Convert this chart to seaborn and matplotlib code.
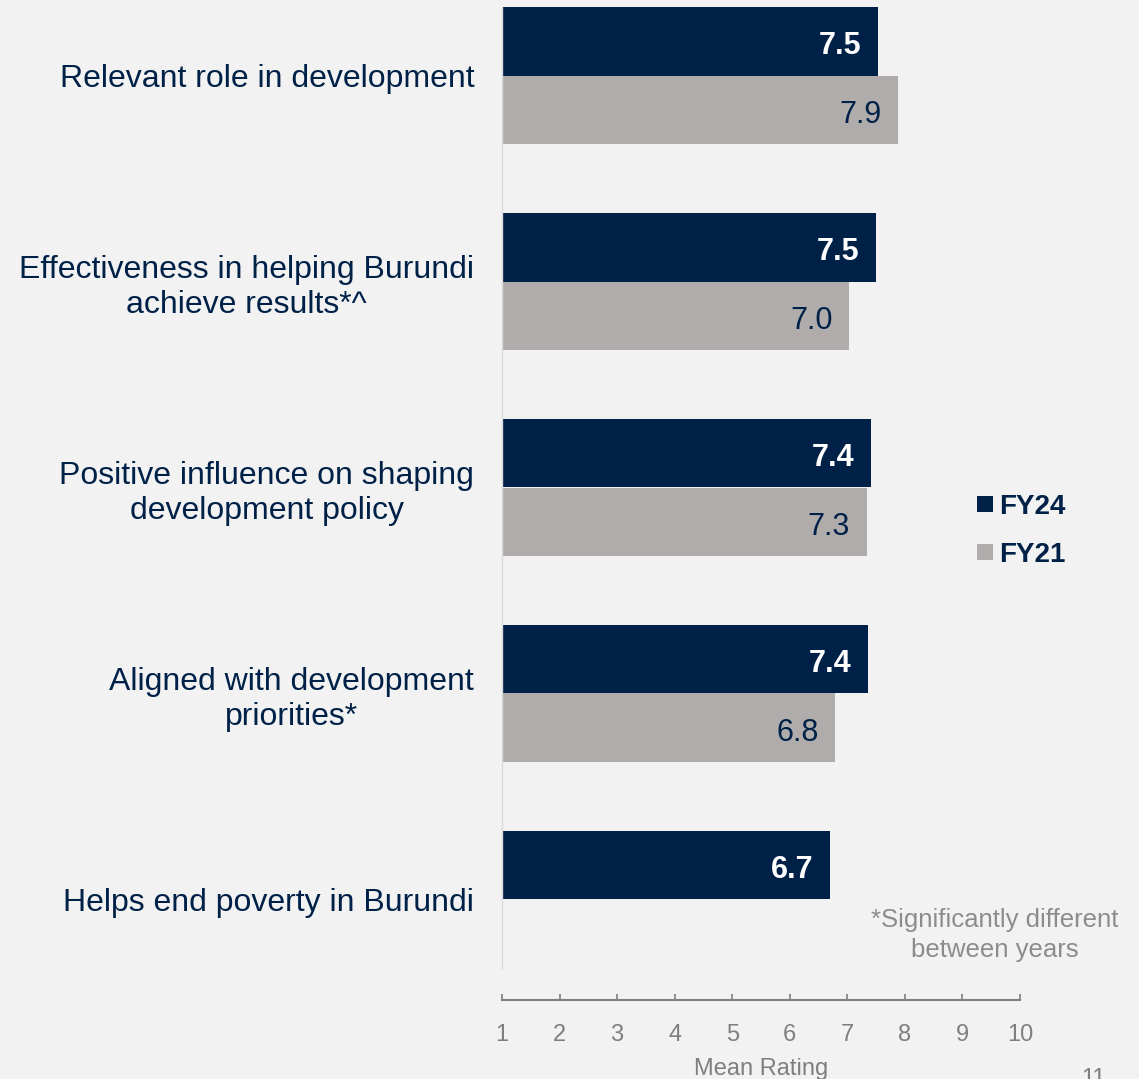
import matplotlib
matplotlib.use("Agg")
import matplotlib.pyplot as plt
import seaborn as sns
import pandas as pd
import numpy as np
from matplotlib.lines import Line2D

# data
items = [
    "Relevant role in development",
    "Effectiveness in helping Burundi\nachieve results*^",
    "Positive influence on shaping\ndevelopment policy",
    "Aligned with development\npriorities*",
    "Helps end poverty in Burundi",
]
fy24 = [7.54, 7.50, 7.41, 7.36, 6.70]
fy21 = [7.88, 7.03, 7.34, 6.79, np.nan]
years = ["FY24", "FY21"]
x_ticks = [1, 2, 3, 4, 5, 6, 7, 8, 9, 10]

NAVY = "#002147"
GREY_BAR = "#AFACAB"
BG = "#F2F2F2"
TICK_GREY = "#7F7F7F"
NOTE_GREY = "#8C8C8C"

df = pd.DataFrame({
    "item": items * 2,
    "value": fy24 + fy21,
    "year": ["FY24"] * len(items) + ["FY21"] * len(items),
}).dropna()

sns.set_style("white")
plt.rcParams["font.family"] = ["Liberation Sans", "DejaVu Sans"]

fig = plt.figure(figsize=(11.39, 10.79), dpi=100)
fig.patch.set_facecolor(BG)
ax = fig.add_axes([502 / 1139, 111 / 1079, 518 / 1139, 961 / 1079])
ax.set_facecolor(BG)

sns.barplot(data=df, x="value", y="item", hue="year", order=items,
            hue_order=years, palette={"FY24": NAVY, "FY21": GREY_BAR},
            orient="h", width=0.667, saturation=1, linewidth=0,
            errorbar=None, legend=False, ax=ax)

ax.set_xlim(1, 10)
ax.set_ylim(len(items) - 1 + 1 / 3, -1 / 3)
ax.set_xticks(x_ticks)
ax.set_xlabel("Mean Rating", fontsize=17, color=TICK_GREY, labelpad=9)
ax.set_ylabel("")

# value labels inside bar ends
for cont, yr in zip(ax.containers, years):
    for bar in cont:
        w = bar.get_width()
        if np.isnan(w):
            continue
        yc = bar.get_y() + bar.get_height() / 2
        if yr == "FY24":
            ax.annotate(f"{w:.1f}", (w, yc), xytext=(-12, -3.5), textcoords="offset points",
                        ha="right", va="center", fontsize=22, fontweight="bold", color="white")
        else:
            ax.annotate(f"{w:.1f}", (w, yc), xytext=(-12, -3.5), textcoords="offset points",
                        ha="right", va="center", fontsize=22, color=NAVY)

# spines and ticks
for s in ["top", "right"]:
    ax.spines[s].set_visible(False)
ax.spines["left"].set_color("#D9D9D9")
ax.spines["left"].set_linewidth(1)
ax.spines["bottom"].set_position(("outward", 23))
ax.spines["bottom"].set_color(TICK_GREY)
ax.spines["bottom"].set_linewidth(1.5)
ax.tick_params(axis="x", bottom=True, direction="in", length=4.5, width=1.2,
               color=TICK_GREY, labelsize=17, labelcolor=TICK_GREY, pad=17)
ax.tick_params(axis="y", left=False, length=0, pad=20, labelsize=23, labelcolor=NAVY)
for lbl in ax.get_yticklabels():
    lbl.set_multialignment("center")

# legend
handles = [Line2D([], [], marker="s", linestyle="none", markersize=11,
                  markerfacecolor=NAVY, markeredgewidth=0),
           Line2D([], [], marker="s", linestyle="none", markersize=11,
                  markerfacecolor=GREY_BAR, markeredgewidth=0)]
leg = fig.legend(handles, years, loc="center left",
                 bbox_to_anchor=(963 / 1139, 1 - 531 / 1079), frameon=False,
                 prop={"size": 20, "weight": "bold"}, handlelength=0.6,
                 handletextpad=0.2, labelspacing=0.8, borderpad=0)
for t in leg.get_texts():
    t.set_color(NAVY)

# footnote and page number
fig.text(995 / 1139, 1 - 935 / 1079, "*Significantly different\nbetween years",
         ha="center", va="center", multialignment="center", fontsize=18.5,
         color=NOTE_GREY, linespacing=1.3)
fig.text(1081 / 1139, 1 - 1068 / 1079, "11", ha="left", va="top",
         fontsize=17, color=TICK_GREY)

plt.savefig("out.png", dpi=100, facecolor=BG)
